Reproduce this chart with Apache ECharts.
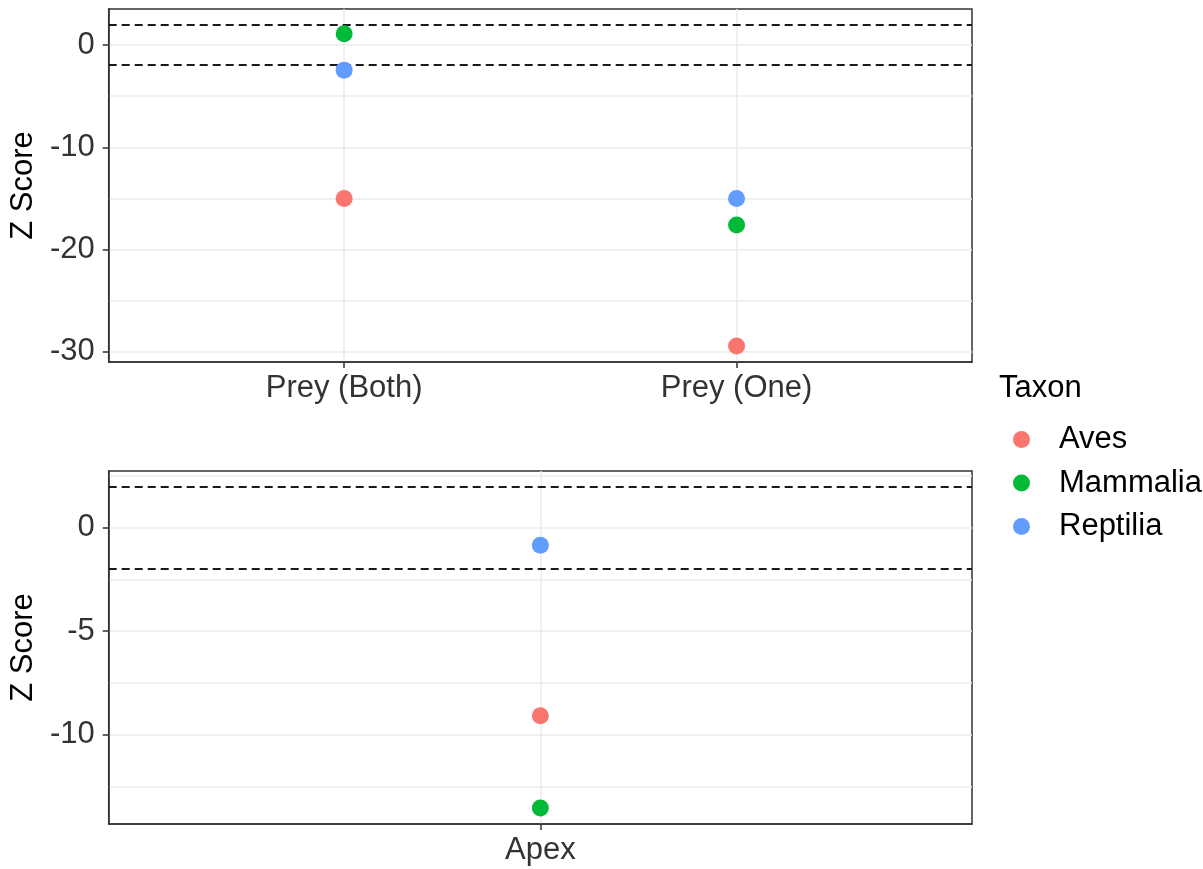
<!DOCTYPE html>
<html>
<head>
<meta charset="utf-8">
<script src="https://cdn.jsdelivr.net/npm/echarts@6/dist/echarts.min.js"></script>
<style>
  html, body { margin: 0; padding: 0; background: #fff; }
  #chart { width: 1203px; height: 869px; }
</style>
</head>
<body>
<div id="chart"></div>
<script>
// Z scores by taxon for each guild
const taxa = ['Aves', 'Mammalia', 'Reptilia'];
const taxonColors = ['#F8766D', '#00BA38', '#619CFF'];

const preyCategories = ['Prey (Both)', 'Prey (One)'];
const preyAves = [-15.0, -29.43];
const preyMammalia = [1.1, -17.6];
const preyReptilia = [-2.45, -15.0];

const apexCategories = ['Apex'];
const apexAves = [-9.08];
const apexMammalia = [-13.53];
const apexReptilia = [-0.85];

// significance thresholds (±1.96)
const thresholds = [1.96, -1.96];

// tick labels and grid lines on the value axes
const preyTicks = [0, -10, -20, -30];
const preyGrid = [0, -5, -10, -15, -20, -25, -30];
const apexTicks = [0, -5, -10];
const apexGrid = [2.5, 0, -2.5, -5, -7.5, -10, -12.5];

const FONT = 'Liberation Sans, Arial, sans-serif';
const FS = 31;
const TICK_COLOR = '#333';

// data range padded by 5% on each side (includes the threshold lines)
function padRange(values) {
  const lo = Math.min(...values), hi = Math.max(...values);
  const pad = (hi - lo) * 0.05;
  return [lo - pad, hi + pad];
}
const preyRange = padRange([...preyAves, ...preyMammalia, ...preyReptilia, ...thresholds]);
const apexRange = padRange([...apexAves, ...apexMammalia, ...apexReptilia, ...thresholds]);

function xAxisFor(gridIndex, cats) {
  const pos = cats.map((_, i) => i + 1);
  return {
    type: 'value', gridIndex: gridIndex, position: 'bottom',
    min: 0.4, max: cats.length + 0.6,
    axisLine: { show: true, onZero: false, lineStyle: { color: '#333', width: 1.5 } },
    axisTick: { show: true, inside: false, customValues: pos, length: 6, lineStyle: { color: '#333', width: 1.5 } },
    axisLabel: {
      customValues: pos, margin: 11,
      formatter: v => cats[Math.round(v) - 1] || '',
      fontFamily: FONT, fontSize: FS, color: TICK_COLOR
    },
    splitLine: { show: true, lineStyle: { color: '#EBEBEB', width: 1.5 } }
  };
}

function yAxesFor(gridIndex, range, ticks, gridVals) {
  return [
    {
      type: 'value', gridIndex: gridIndex, min: range[0], max: range[1], position: 'left',
      name: 'Z Score', nameLocation: 'middle', nameRotate: 90, nameGap: 65,
      nameTextStyle: { fontFamily: FONT, fontSize: FS, color: '#000' },
      axisLine: { show: true, onZero: false, lineStyle: { color: '#333', width: 1.5 } },
      axisTick: { show: true, inside: false, customValues: ticks, length: 6, lineStyle: { color: '#333', width: 1.5 } },
      axisLabel: { customValues: ticks, margin: 14, fontFamily: FONT, fontSize: FS, color: TICK_COLOR },
      splitLine: { show: false }
    },
    {
      type: 'value', gridIndex: gridIndex, min: range[0], max: range[1],
      position: 'left',
      axisLine: { show: false, onZero: false },
      axisTick: { show: false, customValues: gridVals },
      axisLabel: { show: false, customValues: gridVals },
      splitLine: { show: true, lineStyle: { color: '#EBEBEB', width: 1.5 } }
    }
  ];
}

function thresholdLines() {
  return {
    silent: true, symbol: 'none', animation: false,
    label: { show: false },
    lineStyle: { color: '#1a1a1a', type: [8, 5], width: 2 },
    data: thresholds.map(v => ({ yAxis: v }))
  };
}

function seriesFor(xi, yi, groups) {
  return groups.map((vals, k) => {
    const s = {
      type: 'scatter', name: taxa[k], xAxisIndex: xi, yAxisIndex: yi,
      symbol: 'circle', symbolSize: 17,
      itemStyle: { color: taxonColors[k], opacity: 1 },
      data: vals.map((v, i) => [i + 1, v]),
      z: 5
    };
    if (k === 0) s.markLine = thresholdLines();
    return s;
  });
}

const chart = echarts.init(document.getElementById('chart'), null, { renderer: 'canvas' });
chart.setOption({
  animation: false,
  backgroundColor: '#fff',
  textStyle: { fontFamily: FONT },
  grid: [
    { left: 108, top: 9, width: 864, height: 353, show: true, borderColor: '#333', borderWidth: 1.5, backgroundColor: '#fff' },
    { left: 108, top: 471, width: 864, height: 353, show: true, borderColor: '#333', borderWidth: 1.5, backgroundColor: '#fff' }
  ],
  xAxis: [xAxisFor(0, preyCategories), xAxisFor(1, apexCategories)],
  yAxis: [
    ...yAxesFor(0, preyRange, preyTicks, preyGrid),
    ...yAxesFor(1, apexRange, apexTicks, apexGrid)
  ],
  legend: {
    data: taxa, orient: 'vertical', left: 1008, top: 419,
    icon: 'circle', itemWidth: 17, itemHeight: 17, itemGap: 12.5,
    selectedMode: false,
    textStyle: { fontFamily: FONT, fontSize: FS, color: '#000', lineHeight: 31, padding: [0, 0, 0, 24] }
  },
  graphic: [{
    type: 'text', left: 999, top: 373,
    style: { text: 'Taxon', fontFamily: FONT, fontSize: FS, fill: '#000' }
  }],
  series: [
    ...seriesFor(0, 1, [preyAves, preyMammalia, preyReptilia]),
    ...seriesFor(1, 3, [apexAves, apexMammalia, apexReptilia])
  ]
});
</script>
</body>
</html>
